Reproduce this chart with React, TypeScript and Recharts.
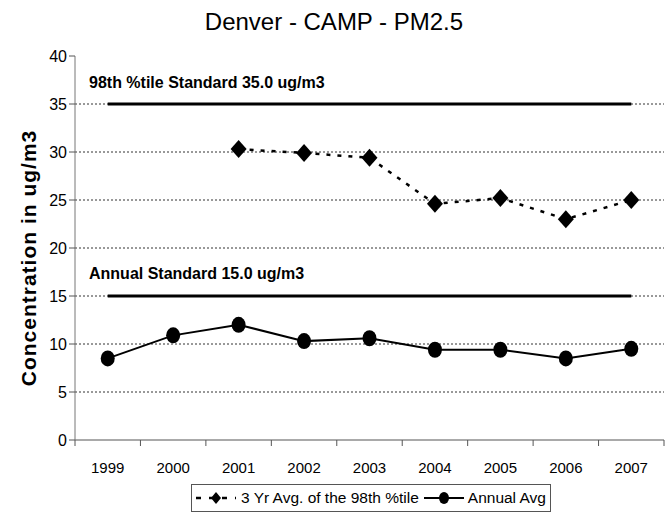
import { LineChart, Line, XAxis, YAxis, ReferenceLine, Label } from 'recharts';

const years = ['1999', '2000', '2001', '2002', '2003', '2004', '2005', '2006', '2007'];
const threeYrAvg98 = [null, null, 30.3, 29.9, 29.4, 24.6, 25.2, 23.0, 25.0];
const annualAvg = [8.5, 10.9, 12.0, 10.3, 10.6, 9.4, 9.4, 8.5, 9.5];
const standard98 = [35, 35, 35, 35, 35, 35, 35, 35, 35];
const annualStandard = [15, 15, 15, 15, 15, 15, 15, 15, 15];
const yTicks = [0, 5, 10, 15, 20, 25, 30, 35, 40];
const gridValues = [5, 10, 15, 20, 25, 30, 35];

const data = years.map((year, i) => ({
  year,
  avg98: threeYrAvg98[i],
  annual: annualAvg[i],
  std98: standard98[i],
  stdAnnual: annualStandard[i],
}));

const W = 665;
const H = 516;
const PLOT_LEFT = 75;
const PLOT_RIGHT = 664;
const PLOT_TOP = 56;
const PLOT_BOTTOM = 440;
const HALF_BAND = (PLOT_RIGHT - PLOT_LEFT) / years.length / 2;
const FONT = 'Liberation Sans, Arial, sans-serif';

const Diamond = ({ cx, cy }: any) => {
  if (cx == null || cy == null) return null;
  return <polygon points={`${cx},${cy - 9} ${cx + 8},${cy} ${cx},${cy + 9} ${cx - 8},${cy}`} fill="#000" />;
};

const Dot = ({ cx, cy }: any) => {
  if (cx == null || cy == null) return null;
  return <ellipse cx={cx} cy={cy} rx={7} ry={8} fill="#000" />;
};

const XTick = ({ x, payload, index }: any) => {
  const last = index === years.length - 1;
  return (
    <g>
      <line x1={x - HALF_BAND} x2={x - HALF_BAND} y1={PLOT_BOTTOM} y2={PLOT_BOTTOM + 6} stroke="#555" />
      {last && <line x1={x + HALF_BAND} x2={x + HALF_BAND} y1={PLOT_BOTTOM} y2={PLOT_BOTTOM + 6} stroke="#555" />}
      <text x={x} y={PLOT_BOTTOM + 33} textAnchor="middle" fontSize={15} fontFamily={FONT} fill="#000">
        {payload.value}
      </text>
    </g>
  );
};

const YTitle = () => (
  <text
    x={28}
    y={258}
    transform="rotate(-90 28 258)"
    textAnchor="middle"
    dominantBaseline="central"
    fontSize={21}
    fontWeight="bold"
    letterSpacing={1}
    fontFamily={FONT}
    fill="#000"
  >
    Concentration in ug/m3
  </text>
);

export default function App() {
  return (
    <div style={{ position: 'absolute', left: 0, top: 0, width: W, height: H, background: '#fff', fontFamily: FONT }}>
      <LineChart
        width={W}
        height={H}
        data={data}
        margin={{ top: PLOT_TOP, right: W - PLOT_RIGHT, bottom: 0, left: 0 }}
      >
        {gridValues.map((v) => (
          <ReferenceLine key={v} y={v} stroke="#333" strokeDasharray="2 2" strokeWidth={1} />
        ))}
        <XAxis
          dataKey="year"
          height={H - PLOT_BOTTOM}
          tickLine={false}
          axisLine={{ stroke: '#555' }}
          tick={<XTick />}
          interval={0}
          padding={{ left: HALF_BAND, right: HALF_BAND }}
        />
        <YAxis
          width={PLOT_LEFT}
          domain={[0, 40]}
          ticks={yTicks}
          interval={0}
          tickSize={6}
          axisLine={{ stroke: '#777' }}
          tickLine={{ stroke: '#555' }}
          tick={{ fontSize: 16, fontFamily: FONT, fill: '#000' }}
        >
          <Label content={<YTitle />} />
        </YAxis>
        <YAxis yAxisId="right" orientation="right" width={0} tick={false} tickLine={false} axisLine={{ stroke: '#aaa' }} />
        <Line dataKey="std98" stroke="#000" strokeWidth={3} dot={false} legendType="none" isAnimationActive={false} />
        <Line dataKey="stdAnnual" stroke="#000" strokeWidth={3} dot={false} legendType="none" isAnimationActive={false} />
        <Line
          dataKey="avg98"
          stroke="#000"
          strokeWidth={2.5}
          strokeDasharray="4 7"
          dot={<Diamond />}
          isAnimationActive={false}
        />
        <Line dataKey="annual" stroke="#000" strokeWidth={2} dot={<Dot />} isAnimationActive={false} />
      </LineChart>

      <div style={{ position: 'absolute', left: 0, width: 668, top: 7, textAlign: 'center', fontSize: 24, lineHeight: '30px' }}>
        Denver - CAMP - PM2.5
      </div>
      <div style={{ position: 'absolute', left: 89, top: 73, fontSize: 16, fontWeight: 'bold', lineHeight: '20px' }}>
        98th %tile Standard 35.0 ug/m3
      </div>
      <div style={{ position: 'absolute', left: 89, top: 264, fontSize: 16, fontWeight: 'bold', lineHeight: '20px' }}>
        Annual Standard 15.0 ug/m3
      </div>

      <div
        style={{
          position: 'absolute',
          left: 191,
          top: 484,
          width: 360,
          height: 28,
          boxSizing: 'border-box',
          border: '1px solid #555',
          display: 'flex',
          alignItems: 'center',
          fontSize: 15.5,
          whiteSpace: 'nowrap',
        }}
      >
        <svg width={44} height={20} style={{ marginLeft: 2 }}>
          <line x1={2} x2={42} y1={10} y2={10} stroke="#000" strokeWidth={2.5} strokeDasharray="5 8" />
          <polygon points="22,4 27,10 22,16 17,10" fill="#000" />
        </svg>
        <span style={{ marginLeft: 3 }}>3 Yr Avg. of the 98th %tile</span>
        <svg width={44} height={20} style={{ marginLeft: 3 }}>
          <line x1={2} x2={42} y1={10} y2={10} stroke="#000" strokeWidth={2} />
          <ellipse cx={22} cy={10} rx={5} ry={6} fill="#000" />
        </svg>
        <span style={{ marginLeft: 2 }}>Annual Avg</span>
      </div>
    </div>
  );
}
